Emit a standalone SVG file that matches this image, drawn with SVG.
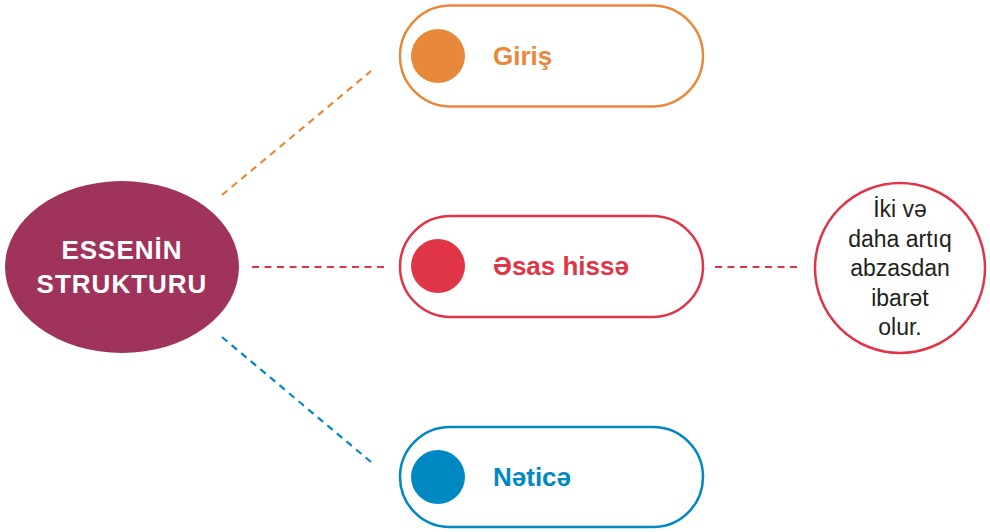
<svg xmlns="http://www.w3.org/2000/svg" width="990" height="532" viewBox="0 0 990 532">
<style>
.pill{fill:#fff;stroke-width:2.5}
.lbl{font-family:"Liberation Sans",Arial,sans-serif;font-weight:bold;font-size:26px}
.dash{fill:none;stroke-width:2.2;stroke-dasharray:7 5.5}
.note{font-family:"Liberation Sans",Arial,sans-serif;font-size:23px;fill:#231f20;text-anchor:middle}
</style>
<rect width="990" height="532" fill="#fff"/>
<g id="connectors">
<line class="dash" x1="222" y1="195" x2="371" y2="71" stroke="#e8883a"/>
<line class="dash" x1="252" y1="267" x2="388" y2="267" stroke="#e03546"/>
<line class="dash" x1="222" y1="337" x2="371" y2="462" stroke="#0088c2"/>
<line class="dash" x1="715" y1="267" x2="800" y2="267" stroke="#e03546"/>
</g>
<g id="essenin">
<ellipse cx="122" cy="267" rx="117" ry="86" fill="#a0335b"/>
<text x="122" y="259" text-anchor="middle" font-family="'Liberation Sans',Arial,sans-serif" font-weight="bold" font-size="26" letter-spacing="1" fill="#fff">ESSENİN</text>
<text x="122" y="293" text-anchor="middle" font-family="'Liberation Sans',Arial,sans-serif" font-weight="bold" font-size="26" letter-spacing="1" fill="#fff">STRUKTURU</text>
</g>
<g id="giris">
<rect class="pill" x="400" y="5.5" width="303" height="101" rx="50.5" stroke="#e8883a"/>
<circle cx="438" cy="56" r="27" fill="#e8883a"/>
<text class="lbl" x="493" y="65" fill="#e8883a">Giriş</text>
</g>
<g id="esas">
<rect class="pill" x="400" y="216" width="303" height="101" rx="50.5" stroke="#e03546"/>
<circle cx="438" cy="266" r="27" fill="#e03546"/>
<text class="lbl" x="493" y="275" fill="#e03546">Əsas hissə</text>
</g>
<g id="netice">
<rect class="pill" x="400" y="427" width="303" height="100" rx="50" stroke="#0088c2"/>
<circle cx="438" cy="477" r="27" fill="#0088c2"/>
<text class="lbl" x="493" y="486" fill="#0088c2">Nəticə</text>
</g>
<g id="note">
<circle cx="900" cy="268" r="85" fill="#fff" stroke="#e03546" stroke-width="2.5"/>
<text class="note" x="900" y="217">İki və</text>
<text class="note" x="900" y="247">daha artıq</text>
<text class="note" x="900" y="276">abzasdan</text>
<text class="note" x="900" y="306">ibarət</text>
<text class="note" x="900" y="335">olur.</text>
</g>
</svg>
